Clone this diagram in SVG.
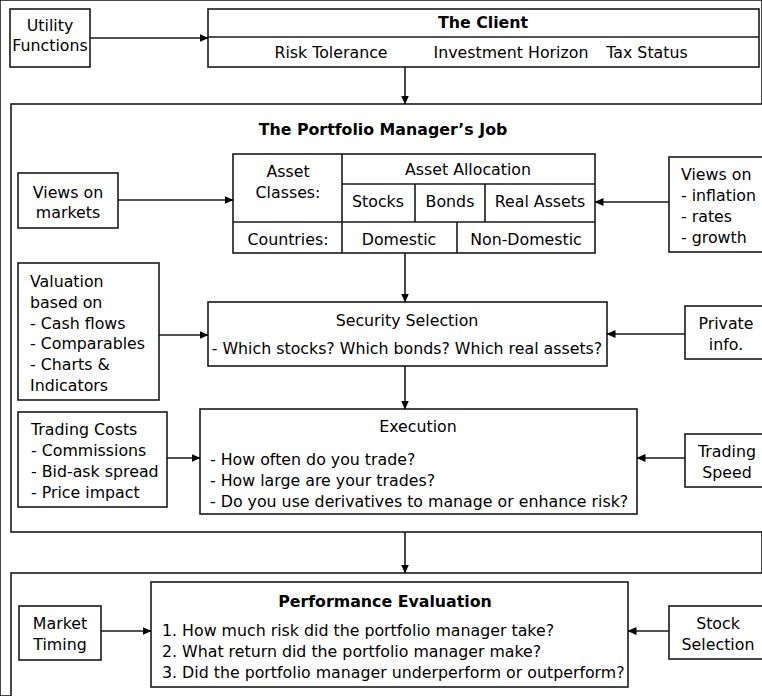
<svg xmlns="http://www.w3.org/2000/svg" width="762" height="696" viewBox="0 0 762 696">
<style>
rect, line.b { fill: #fff; stroke: #1a1a1a; stroke-width: 1.6; }
.c line { stroke: #1a1a1a; stroke-width: 1.6; }
text { font-family: "DejaVu Sans", "Liberation Sans", sans-serif; font-size: 15.8px; fill: #000; }
.m { text-anchor: middle; }
.bd { font-weight: bold; }
</style>
<defs>
<marker id="ah" markerWidth="9" markerHeight="8" refX="8.5" refY="4" orient="auto" markerUnits="userSpaceOnUse">
<path d="M0,0 L9,4 L0,8 Z" fill="#000"/>
</marker>
</defs>
<rect width="762" height="696" fill="#fff" stroke="none"/>

<g id="pm-frame">
<rect x="11" y="104" width="760" height="428"/>
<text class="m bd" x="383" y="135">The Portfolio Manager’s Job</text>
</g>
<g id="pe-frame">
<rect x="11" y="573" width="760" height="130"/>
</g>

<g id="utility">
<rect x="10" y="9" width="80" height="58"/>
<text class="m" x="50" y="31">Utility</text>
<text class="m" x="50" y="51">Functions</text>
</g>

<g id="client">
<rect x="208" y="9" width="551" height="58"/>
<line class="b" x1="208" y1="37" x2="759" y2="37"/>
<text class="m bd" x="483" y="28">The Client</text>
<text class="m" x="331" y="58">Risk Tolerance</text>
<text class="m" x="511" y="58">Investment Horizon</text>
<text class="m" x="647" y="58">Tax Status</text>
</g>

<g id="views-markets">
<rect x="18" y="173" width="100" height="55"/>
<text class="m" x="68" y="198">Views on</text>
<text class="m" x="68" y="218">markets</text>
</g>

<g id="asset-allocation">
<rect x="233" y="154" width="362" height="99"/>
<line class="b" x1="342" y1="154" x2="342" y2="253"/>
<line class="b" x1="342" y1="184" x2="595" y2="184"/>
<line class="b" x1="233" y1="222" x2="595" y2="222"/>
<line class="b" x1="415" y1="184" x2="415" y2="222"/>
<line class="b" x1="485" y1="184" x2="485" y2="222"/>
<line class="b" x1="457" y1="222" x2="457" y2="253"/>
<text class="m" x="288" y="177">Asset</text>
<text class="m" x="288" y="198">Classes:</text>
<text class="m" x="468" y="175">Asset Allocation</text>
<text class="m" x="378" y="207">Stocks</text>
<text class="m" x="450" y="207">Bonds</text>
<text class="m" x="540" y="207">Real Assets</text>
<text class="m" x="288" y="245">Countries:</text>
<text class="m" x="399" y="245">Domestic</text>
<text class="m" x="526" y="245">Non-Domestic</text>
</g>

<g id="views-macro">
<rect x="669" y="157" width="100" height="95"/>
<text x="681" y="180">Views on</text>
<text x="681" y="201">- inflation</text>
<text x="681" y="222">- rates</text>
<text x="681" y="243">- growth</text>
</g>

<g id="valuation">
<rect x="18" y="263" width="141" height="137"/>
<text x="30" y="287">Valuation</text>
<text x="30" y="308">based on</text>
<text x="30" y="329">- Cash flows</text>
<text x="30" y="349">- Comparables</text>
<text x="30" y="370">- Charts &amp;</text>
<text x="30" y="391">Indicators</text>
</g>

<g id="security-selection">
<rect x="208" y="302" width="399" height="64"/>
<text class="m" x="407" y="326">Security Selection</text>
<text class="m" x="407" y="354">- Which stocks? Which bonds? Which real assets?</text>
</g>

<g id="private-info">
<rect x="685" y="306" width="84" height="53"/>
<text class="m" x="726" y="329">Private</text>
<text class="m" x="726" y="350">info.</text>
</g>

<g id="trading-costs">
<rect x="18" y="412" width="149" height="95"/>
<text x="31" y="435">Trading Costs</text>
<text x="31" y="456">- Commissions</text>
<text x="31" y="477">- Bid-ask spread</text>
<text x="31" y="498">- Price impact</text>
</g>

<g id="execution">
<rect x="200" y="409" width="437" height="105"/>
<text class="m" x="418" y="432">Execution</text>
<text x="210" y="465">- How often do you trade?</text>
<text x="210" y="486">- How large are your trades?</text>
<text x="210" y="507">- Do you use derivatives to manage or enhance risk?</text>
</g>

<g id="trading-speed">
<rect x="685" y="434" width="84" height="53"/>
<text class="m" x="727" y="457">Trading</text>
<text class="m" x="727" y="478">Speed</text>
</g>

<g id="market-timing">
<rect x="19" y="606" width="82" height="54"/>
<text class="m" x="60" y="629">Market</text>
<text class="m" x="60" y="650">Timing</text>
</g>

<g id="performance-evaluation">
<rect x="151" y="582" width="477" height="105"/>
<text class="m bd" x="385" y="607">Performance Evaluation</text>
<text x="162" y="636">1. How much risk did the portfolio manager take?</text>
<text x="162" y="657">2. What return did the portfolio manager make?</text>
<text x="162" y="678">3. Did the portfolio manager underperform or outperform?</text>
</g>

<g id="stock-selection">
<rect x="669" y="606" width="100" height="53"/>
<text class="m" x="718" y="629">Stock</text>
<text class="m" x="718" y="650">Selection</text>
</g>

<g id="connectors" class="c">
<line x1="90" y1="38" x2="208" y2="38" marker-end="url(#ah)"/>
<line x1="405" y1="67" x2="405" y2="104" marker-end="url(#ah)"/>
<line x1="118" y1="200" x2="233" y2="200" marker-end="url(#ah)"/>
<line x1="669" y1="202" x2="595" y2="202" marker-end="url(#ah)"/>
<line x1="405" y1="253" x2="405" y2="302" marker-end="url(#ah)"/>
<line x1="159" y1="335" x2="208" y2="335" marker-end="url(#ah)"/>
<line x1="685" y1="334" x2="607" y2="334" marker-end="url(#ah)"/>
<line x1="405" y1="366" x2="405" y2="409" marker-end="url(#ah)"/>
<line x1="167" y1="458" x2="200" y2="458" marker-end="url(#ah)"/>
<line x1="685" y1="458" x2="637" y2="458" marker-end="url(#ah)"/>
<line x1="405" y1="532" x2="405" y2="573" marker-end="url(#ah)"/>
<line x1="101" y1="631" x2="151" y2="631" marker-end="url(#ah)"/>
<line x1="669" y1="631" x2="628" y2="631" marker-end="url(#ah)"/>
</g>
</svg>
